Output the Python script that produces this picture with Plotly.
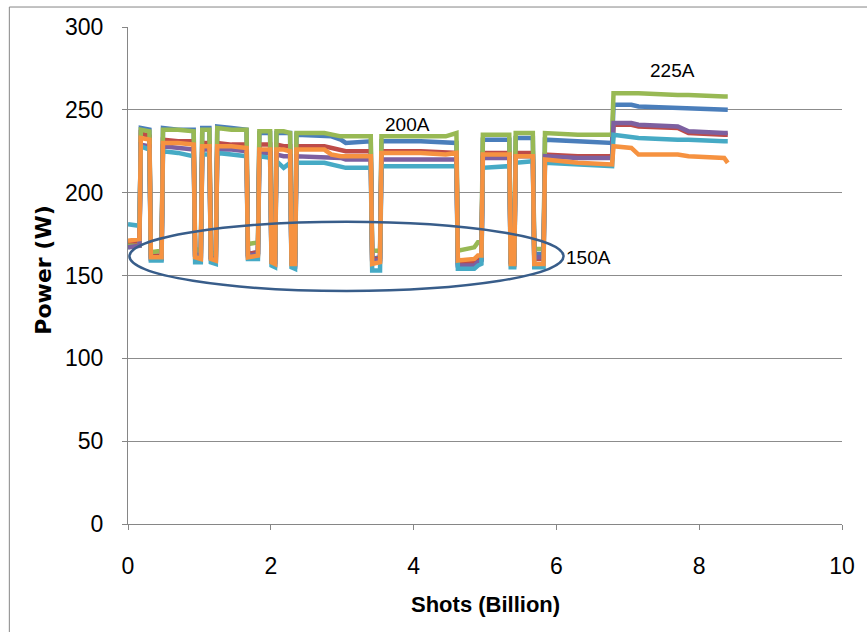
import plotly.graph_objects as go

# Knot positions along the run (billions of shots); each operating block
# (150A dip / 200A plateau / 225A plateau) is listed start, [drift points], end.
shots = [
    0.00, 0.16,                          # 150A start
    0.18, 0.30,                          # 200A
    0.32, 0.47,                          # 150A
    0.49, 0.70, 0.92,                    # 200A
    0.94, 1.02,                          # 150A
    1.04, 1.14,                          # 200A
    1.16, 1.23,                          # 150A
    1.25, 1.45, 1.66,                    # 200A
    1.68, 1.82,                          # 150A
    1.84, 1.99,                          # 200A
    2.01, 2.06,                          # 150A
    2.08, 2.18, 2.27,                    # 200A
    2.29, 2.34,                          # 150A
    2.36, 2.75, 2.85, 2.98, 3.05, 3.40,  # 200A
    3.42, 3.53,                          # 150A
    3.55, 4.10, 4.45, 4.60,              # 200A
    4.62, 4.85, 4.90, 4.95,              # 150A
    4.97, 5.34,                          # 200A
    5.36, 5.41,                          # 150A
    5.43, 5.67,                          # 200A
    5.69, 5.82,                          # 150A
    5.84, 6.30, 6.78,                    # 200A
    6.80, 7.05, 7.15, 7.70, 7.85, 8.35, 8.40,  # 225A
]

power_1 = [
    167, 168,
    239, 238,
    161, 161,
    239, 238, 238,
    163, 162,
    239, 239,
    161, 160,
    240, 239, 238,
    163, 164,
    236, 236,
    159, 158,
    236, 236, 236,
    158, 157,
    235, 234, 234, 232, 230, 231,
    160, 161,
    231, 231, 230, 230,
    157, 158, 160, 160,
    232, 232,
    159, 159,
    233, 233,
    163, 163,
    232, 231, 230,
    253, 253, 252, 251, 251, 250, 250,
]

power_2 = [
    170, 170,
    236, 234,
    162, 162,
    232, 231, 231,
    162, 161,
    230, 230,
    161, 160,
    230, 229, 229,
    163, 164,
    229, 229,
    160, 159,
    229, 228, 228,
    159, 159,
    228, 228, 227, 226, 225, 225,
    160, 160,
    225, 225, 224, 224,
    158, 158, 159, 160,
    224, 224,
    158, 158,
    224, 224,
    160, 160,
    223, 222, 222,
    241, 241, 240, 239, 236, 235, 235,
]

power_3 = [
    168, 168,
    238, 237,
    164, 165,
    238, 238, 237,
    166, 165,
    238, 238,
    164, 163,
    239, 238, 238,
    169, 170,
    237, 237,
    165, 165,
    237, 237, 236,
    164, 164,
    236, 236, 235, 234, 234, 234,
    165, 165,
    234, 234, 234, 236,
    165, 167, 170, 170,
    235, 235,
    161, 161,
    236, 236,
    166, 166,
    236, 235, 235,
    260, 260, 260, 259, 259, 258, 258,
]

power_4 = [
    167, 168,
    229, 228,
    160, 160,
    228, 227, 226,
    162, 161,
    226, 226,
    160, 159,
    226, 226, 225,
    162, 163,
    224, 224,
    158, 157,
    223, 222, 222,
    157, 156,
    222, 221, 221, 221, 220, 220,
    159, 159,
    220, 220, 220, 220,
    156, 156, 158, 159,
    221, 221,
    158, 157,
    222, 222,
    161, 161,
    222, 221, 221,
    242, 242, 241, 240, 237, 236, 236,
]

power_5 = [
    181, 180,
    228, 226,
    159, 159,
    225, 224, 222,
    158, 158,
    223, 223,
    158, 157,
    224, 223, 222,
    160, 160,
    222, 221,
    156, 155,
    219, 215, 218,
    155, 154,
    218, 218, 217, 216, 215, 215,
    153, 153,
    216, 216, 216, 216,
    154, 154, 156, 157,
    215, 216,
    155, 155,
    218, 219,
    155, 155,
    218, 217, 216,
    235, 234, 233, 232, 232, 231, 231,
]

power_6 = [
    171, 172,
    233, 232,
    161, 161,
    230, 230, 229,
    161, 160,
    228, 228,
    160, 159,
    228, 228, 227,
    161, 162,
    226, 226,
    158, 157,
    226, 226, 225,
    157, 157,
    226, 226, 223, 222, 222, 222,
    157, 158,
    224, 224, 223, 224,
    159, 160, 162, 162,
    223, 223,
    157, 157,
    222, 222,
    157, 157,
    220, 218, 217,
    228, 227, 223, 223, 222, 221, 218,
]

series = [power_1, power_2, power_3, power_4, power_5, power_6]
colors = ["#4A7EBB", "#BE4B48", "#98B954", "#7D60A0", "#46AAC5", "#F69240"]

# Operating-current labels: (text, shots, power)
current_labels = [("200A", 3.92, 241), ("225A", 7.62, 274)]
ellipse_label = ("150A", 6.10, 161)
# Ellipse around the 150A dips: (x0, x1, y0, y1)
ellipse_box = (0.02, 6.10, 140.7, 182.4)

fig = go.Figure()
for vals, col in zip(series, colors):
    assert len(vals) == len(shots)
    fig.add_trace(go.Scatter(
        x=shots, y=vals, mode="lines",
        line=dict(color=col, width=4.5),
        showlegend=False, hoverinfo="skip",
    ))

axis_gray = "#868686"
tick_font = dict(family="Liberation Sans, Arial, sans-serif", size=23, color="#000000")

fig.update_layout(
    width=867, height=632,
    margin=dict(l=128, r=20, t=27, b=108),
    paper_bgcolor="#FFFFFF", plot_bgcolor="#FFFFFF",
    showlegend=False,
    xaxis=dict(
        range=[0, 10], dtick=2, tick0=0,
        showgrid=False, zeroline=False,
        showline=True, linecolor=axis_gray, linewidth=1,
        ticks="outside", ticklen=5, tickcolor=axis_gray,
        tickfont=tick_font, ticklabelstandoff=16,
    ),
    yaxis=dict(
        range=[0, 300], dtick=50, tick0=0,
        showgrid=True, gridcolor="#8C8C8C", gridwidth=1,
        zeroline=False,
        showline=True, linecolor=axis_gray, linewidth=1,
        ticks="outside", ticklen=5, tickcolor=axis_gray,
        tickfont=tick_font, ticklabelstandoff=14,
    ),
)

# Chart frame
fig.add_shape(type="rect", xref="paper", yref="paper",
              x0=-0.1662, x1=1.3, y0=-0.5, y1=1.0402,
              line=dict(color=axis_gray, width=1), fillcolor="rgba(0,0,0,0)",
              layer="below")

# Ellipse marking the 150A blocks
ex0, ex1, ey0, ey1 = ellipse_box
fig.add_shape(type="circle", xref="x", yref="y",
              x0=ex0, x1=ex1, y0=ey0, y1=ey1,
              line=dict(color="#385D8A", width=2.5))

label_font = dict(family="Liberation Sans, Arial, sans-serif", size=19, color="#000000")
for txt, xv, yv in current_labels:
    fig.add_annotation(x=xv, y=yv, xref="x", yref="y", text=txt,
                       showarrow=False, font=label_font,
                       xanchor="center", yanchor="middle")
txt, xv, yv = ellipse_label
fig.add_annotation(x=xv, y=yv, xref="x", yref="y", text=txt,
                   showarrow=False, font=label_font,
                   xanchor="left", yanchor="middle")

# Axis titles
fig.add_annotation(x=0.5, y=-0.161, xref="paper", yref="paper",
                   text="<b>Shots (Billion)</b>", showarrow=False,
                   font=dict(family="Liberation Sans, Arial, sans-serif", size=22, color="#000000"),
                   xanchor="center", yanchor="middle")
fig.add_annotation(x=-0.1196, y=0.511, xref="paper", yref="paper",
                   text="<b>Power (W)</b>", showarrow=False, textangle=-90,
                   font=dict(family="DejaVu Sans, sans-serif", size=22, color="#000000"),
                   xanchor="center", yanchor="middle")

fig.write_html("out.html")
